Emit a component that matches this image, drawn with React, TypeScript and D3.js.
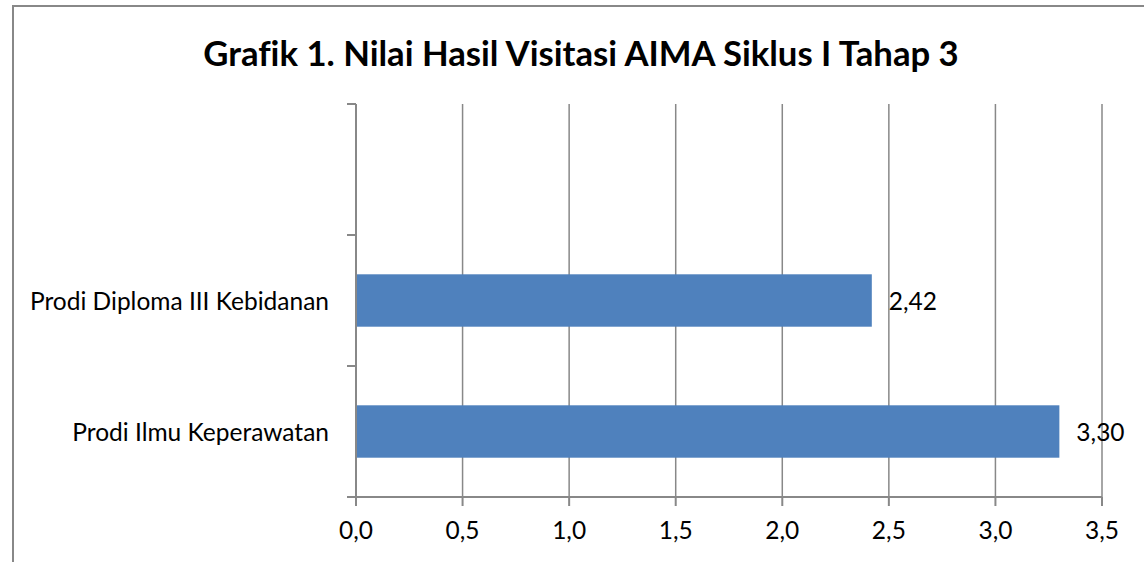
import React, { useEffect, useRef } from 'react';
import * as d3 from 'd3';

const title = 'Grafik 1. Nilai Hasil Visitasi AIMA Siklus I Tahap 3';
const categories = ['', 'Prodi Diploma III Kebidanan', 'Prodi Ilmu Keperawatan'];
const values = [null, 2.42, 3.3];
const xTicks = [0, 0.5, 1, 1.5, 2, 2.5, 3, 3.5];

const App: React.FC = () => {
    const svgRef = useRef<SVGSVGElement>(null);

    const width = 1144;
    const height = 562;

    useEffect(() => {
        if (!svgRef.current) return;

        const svg = d3.select(svgRef.current);
        svg.selectAll('*').remove();

        const font = 'Lato, Carlito, Calibri, sans-serif';
        const grey = '#888888';
        const plot = { left: 356, right: 1102, top: 104, bottom: 497 };
        const labelSize = 24.5;

        const xScale = d3.scaleLinear()
            .domain([0, 3.5])
            .range([plot.left, plot.right]);

        const yScale = d3.scaleBand<string>()
            .domain(categories)
            .range([plot.top, plot.bottom])
            .paddingInner(0.6)
            .paddingOuter(0.3);

        const comma = (v: number, digits: number) => v.toFixed(digits).replace('.', ',');

        // outer frame
        svg.append('rect')
            .attr('x', 13)
            .attr('y', 6)
            .attr('width', width + 20)
            .attr('height', height + 20)
            .attr('fill', 'none')
            .attr('stroke', grey)
            .attr('stroke-width', 2);

        svg.append('text')
            .attr('x', 581)
            .attr('y', 66)
            .attr('text-anchor', 'middle')
            .attr('font-family', font)
            .attr('font-weight', 'bold')
            .attr('font-size', 34.7)
            .style('font-variant-ligatures', 'none')
            .attr('fill', '#000')
            .text(title);

        // gridlines
        svg.append('g')
            .selectAll('line')
            .data(xTicks.filter(t => t > 0))
            .join('line')
            .attr('x1', d => xScale(d))
            .attr('x2', d => xScale(d))
            .attr('y1', plot.top)
            .attr('y2', plot.bottom)
            .attr('stroke', grey)
            .attr('stroke-width', 1.5);

        // bars
        const step = yScale.step();
        const pad = (step - yScale.bandwidth()) / 2;
        const rows = categories.map((c, i) => ({ c, v: values[i] })).filter(d => d.v !== null);

        svg.append('g')
            .selectAll('rect')
            .data(rows)
            .join('rect')
            .attr('x', xScale(0))
            .attr('y', d => yScale(d.c) ?? 0)
            .attr('width', d => xScale(d.v as number) - xScale(0))
            .attr('height', yScale.bandwidth())
            .attr('fill', '#4f81bd');

        // value labels
        svg.append('g')
            .selectAll('text')
            .data(rows)
            .join('text')
            .attr('x', d => xScale(d.v as number) + 17)
            .attr('y', d => (yScale(d.c) ?? 0) + yScale.bandwidth() / 2 + 9)
            .attr('font-family', font)
            .attr('font-size', labelSize)
            .attr('fill', '#000')
            .text(d => comma(d.v as number, 2));

        // y axis
        svg.append('line')
            .attr('x1', plot.left)
            .attr('x2', plot.left)
            .attr('y1', plot.top)
            .attr('y2', plot.bottom)
            .attr('stroke', grey)
            .attr('stroke-width', 2);

        const boundaries = categories.map(c => (yScale(c) ?? 0) - pad).concat([plot.bottom]);
        svg.append('g')
            .selectAll('line')
            .data(boundaries)
            .join('line')
            .attr('x1', plot.left - 9)
            .attr('x2', plot.left)
            .attr('y1', d => d)
            .attr('y2', d => d)
            .attr('stroke', grey)
            .attr('stroke-width', 2);

        svg.append('g')
            .selectAll('text')
            .data(categories.filter(c => c !== ''))
            .join('text')
            .attr('x', 329)
            .attr('y', d => (yScale(d) ?? 0) + yScale.bandwidth() / 2 + 9)
            .attr('text-anchor', 'end')
            .attr('font-family', font)
            .attr('font-size', labelSize)
            .attr('fill', '#000')
            .text(d => d);

        // x axis
        svg.append('line')
            .attr('x1', plot.left - 9)
            .attr('x2', plot.right)
            .attr('y1', plot.bottom)
            .attr('y2', plot.bottom)
            .attr('stroke', grey)
            .attr('stroke-width', 2);

        svg.append('g')
            .selectAll('line')
            .data(xTicks)
            .join('line')
            .attr('x1', d => xScale(d))
            .attr('x2', d => xScale(d))
            .attr('y1', plot.bottom)
            .attr('y2', plot.bottom + 9)
            .attr('stroke', grey)
            .attr('stroke-width', 2);

        svg.append('g')
            .selectAll('text')
            .data(xTicks)
            .join('text')
            .attr('x', d => xScale(d))
            .attr('y', 539)
            .attr('text-anchor', 'middle')
            .attr('font-family', font)
            .attr('font-size', labelSize)
            .attr('fill', '#000')
            .text(d => comma(d, 1));
    }, []);

    return (
        <div style={{ position: 'absolute', left: 0, top: 0, overflow: 'hidden', width, height }}>
            <svg ref={svgRef} width={width} height={height} style={{ display: 'block', background: '#fff' }}></svg>
        </div>
    );
};

export default App;
